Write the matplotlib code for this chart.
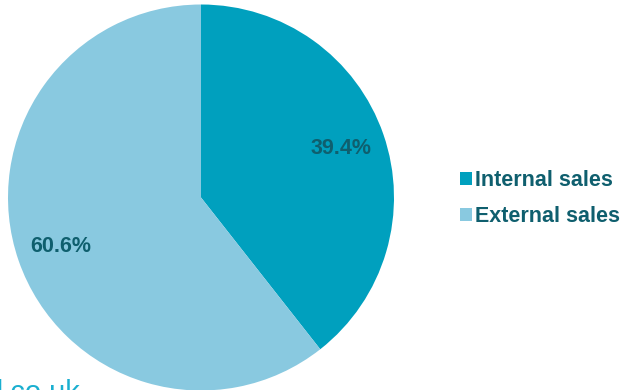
import matplotlib.pyplot as plt

# data
labels = ['Internal sales', 'External sales']
shares = [39.4, 60.6]
colors = ['#00A0BE', '#89C9E0']
text_col = '#0F5F6E'

plt.rcParams['font.family'] = ['Liberation Sans', 'DejaVu Sans']

fig = plt.figure(figsize=(6.25, 3.9), dpi=100)
W, H = 625, 390
r = 193
cx, cy = 201, 197.5
ax = fig.add_axes([(cx - r) / W, (H - cy - r) / H, 2 * r / W, 2 * r / H])

wedges, texts, autotexts = ax.pie(shares, colors=colors, startangle=90, counterclock=False,
                                  autopct='%.1f%%', pctdistance=0.77,
                                  wedgeprops=dict(linewidth=0))
for t in autotexts:
    t.set_color(text_col)
    t.set_fontsize(15.5)
    t.set_fontweight('bold')
ax.set_xlim(-1, 1)
ax.set_ylim(-1, 1)
ax.set_aspect('equal')

leg = fig.legend(wedges, labels, loc='upper left', bbox_to_anchor=(460 / W, 1 - 170 / H),
                 frameon=False, prop=dict(size=15.5, weight='bold'),
                 handlelength=0.56, handleheight=0.56, handletextpad=0.15,
                 labelspacing=0.7, borderaxespad=0, borderpad=0)
for t in leg.get_texts():
    t.set_color(text_col)

# cropped footer text from the original slide
fig.text(-13 / W, 1 - 379 / H, 'd.co.uk', color='#1AAFD0', fontsize=21, ha='left', va='top')

fig.savefig('out.png', dpi=100)
